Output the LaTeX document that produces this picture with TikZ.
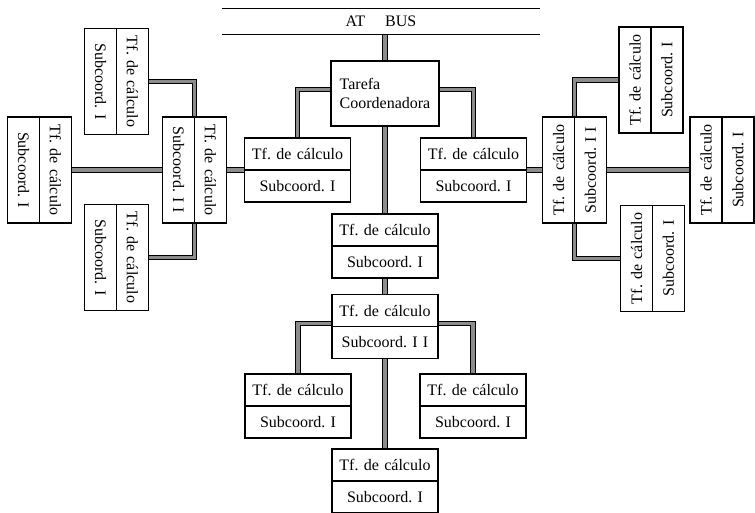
\documentclass[tikz,border=0pt]{standalone}
\usepackage{fontspec}
\setmainfont{Liberation Serif}
\frenchspacing
\usepackage{tikz}
\usetikzlibrary{shapes.multipart, backgrounds, positioning}
\definecolor{linkgray}{RGB}{140,140,140}

\begin{document}
\begin{tikzpicture}[
    x=1pt, y=-1pt,
    task/.style={draw, line width=1.5pt, fill=white, rectangle split, rectangle split parts=2, text width=94pt, inner xsep=6pt, inner ysep=9.5pt, align=center, font=\fontsize{16}{19}\selectfont},
    coordbox/.style={draw, line width=1.5pt, fill=white, minimum width=108pt, minimum height=65pt, align=left, font=\fontsize{16}{19}\selectfont},
    link/.style={line width=1.1pt, double=linkgray, double distance=3.6pt}
]
    \useasboundingbox (0,0) rectangle (755,513);

    % Bus
    \node[minimum width=318pt, minimum height=25pt, inner sep=0pt, font=\fontsize{16}{19}\selectfont] (bus) at (381,21.5) {AT\hspace{20pt}BUS};
    \draw[line width=0.9pt] (bus.north west) -- (bus.north east);
    \draw[line width=0.9pt] (bus.south west) -- (bus.south east);

    % Central column
    \node[coordbox] (tarefa) at (385,93.5) {Tarefa\\Coordenadora};
    \node[task] (c1) at (385,246) {Tf. de cálculo\nodepart{two}Subcoord. I};
    \node[task] (c2) at (385,326.5) {Tf. de cálculo\nodepart{two}Subcoord. I I};
    \node[task] (ll) at (298,406) {Tf. de cálculo\nodepart{two}Subcoord. I};
    \node[task] (rr) at (473,406) {Tf. de cálculo\nodepart{two}Subcoord. I};
    \node[task] (c3) at (385,481) {Tf. de cálculo\nodepart{two}Subcoord. I};

    % Left branch
    \node[task] (l1) at (297.5,170) {Tf. de cálculo\nodepart{two}Subcoord. I};
    \node[task, rotate=-90] (lsii) at (194.5,170) {Tf. de cálculo\nodepart{two}Subcoord. I I};
    \node[task, rotate=-90] (tl1) at (116.5,81.5) {Tf. de cálculo\nodepart{two}Subcoord. I};
    \node[task, rotate=-90] (fl) at (39.5,170) {Tf. de cálculo\nodepart{two}Subcoord. I};
    \node[task, rotate=-90] (bl1) at (116.5,257.5) {Tf. de cálculo\nodepart{two}Subcoord. I};

    % Right branch
    \node[task] (r1) at (473.5,170) {Tf. de cálculo\nodepart{two}Subcoord. I};
    \node[task, rotate=90] (rsii) at (574.5,170) {Tf. de cálculo\nodepart{two}Subcoord. I I};
    \node[task, rotate=90] (tr1) at (651,80) {Tf. de cálculo\nodepart{two}Subcoord. I};
    \node[task, rotate=90] (fr) at (722,170) {Tf. de cálculo\nodepart{two}Subcoord. I};
    \node[task, rotate=90] (br1) at (652.5,258.5) {Tf. de cálculo\nodepart{two}Subcoord. I};

    % Connections
    \begin{scope}[on background layer]
        \draw[link] (tarefa.north) -- (tarefa.north |- bus.south);
        \draw[link] ([yshift=4pt]tarefa.west) -| (l1);
        \draw[link] ([yshift=4pt]tarefa.east) -| (r1);
        \draw[link] (tarefa) -- (c1);
        \draw[link] (c1) -- (c2);
        \draw[link] ([yshift=3pt]c2.west) -| (ll);
        \draw[link] ([yshift=3pt]c2.east) -| (rr);
        \draw[link] (c2) -- (c3);
        \draw[link] (l1) -- (lsii);
        \draw[link] (lsii) -- (fl);
        \draw[link] (tl1) -| (lsii);
        \draw[link] (lsii) |- (bl1);
        \draw[link] (r1) -- (rsii);
        \draw[link] (rsii) -- (fr);
        \draw[link] (rsii) |- (tr1);
        \draw[link] (rsii) |- (br1);
    \end{scope}
\end{tikzpicture}
\end{document}
